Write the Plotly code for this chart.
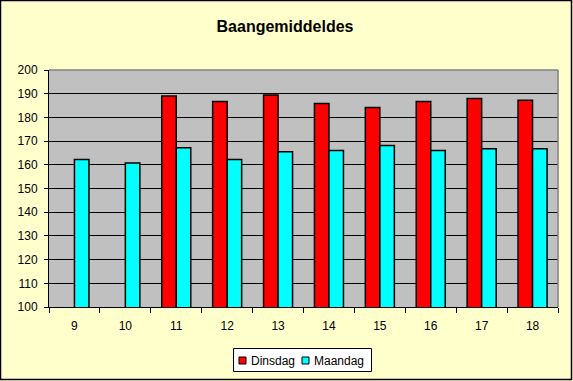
import plotly.graph_objects as go

categories = ["9", "10", "11", "12", "13", "14", "15", "16", "17", "18"]
dinsdag = [None, None, 189, 186.7, 189.4, 185.9, 184.2, 186.7, 188, 187.2]
maandag = [162.2, 160.8, 167.2, 162.2, 165.5, 166, 168.1, 166, 166.8, 166.8]
y_ticks = [100, 110, 120, 130, 140, 150, 160, 170, 180, 190, 200]
series_names = ["Dinsdag", "Maandag"]
series_colors = ["#FF0000", "#00FFFF"]

W, H = 573, 381
L, R, T, B = 49, 15, 70, 74
pw, ph = W - L - R, H - T - B

def px_x(p):
    return (p - L) / pw

def px_y(p):
    return (H - B - p) / ph

fig = go.Figure()
for name, vals, col in zip(series_names, [dinsdag, maandag], series_colors):
    fig.add_trace(go.Bar(name=name, x=categories, y=vals,
                         marker=dict(color=col, line=dict(color="black", width=1.5))))

fig.update_layout(
    width=W, height=H,
    margin=dict(l=L, r=R, t=T, b=B, pad=0),
    paper_bgcolor="#FFFFCC",
    plot_bgcolor="#C0C0C0",
    barmode="group",
    bargap=0.43,
    bargroupgap=0,
    font=dict(family="Liberation Sans, Arial, sans-serif", size=12, color="black"),
    title=dict(text="<b>Baangemiddeldes</b>", x=285 / W, xref="container", xanchor="center",
               y=1 - 26 / H, yanchor="middle", yref="container",
               font=dict(size=16, color="black")),
    xaxis=dict(type="category", tickson="boundaries", ticks="outside", ticklen=5,
               tickcolor="black", showline=True, linecolor="black", linewidth=1,
               showgrid=False, tickfont=dict(size=12), ticklabelstandoff=8),
    yaxis=dict(range=[100, 200], tickvals=y_ticks, ticks="outside", ticklen=4,
               tickcolor="black", showline=True, linecolor="black", linewidth=1,
               showgrid=True, gridcolor="black", gridwidth=1, zeroline=False,
               tickfont=dict(size=12), ticklabelstandoff=4),
    showlegend=False,
)

shapes = [
    dict(type="line", xref="paper", yref="paper", x0=0, x1=1, y0=1, y1=1,
         line=dict(color="#808080", width=1.5), layer="above"),
    dict(type="line", xref="paper", yref="paper", x0=1, x1=1, y0=0, y1=1,
         line=dict(color="#808080", width=1.5), layer="above"),
    dict(type="rect", xref="paper", yref="paper",
         x0=px_x(0.5), x1=px_x(571.5), y0=px_y(379.5), y1=px_y(0.5),
         line=dict(color="black", width=1.5), fillcolor="rgba(0,0,0,0)", layer="above"),
    dict(type="rect", xref="paper", yref="paper",
         x0=px_x(233.5), x1=px_x(371.5), y0=px_y(371.5), y1=px_y(348.5),
         line=dict(color="black", width=1), fillcolor="white", layer="above"),
]
annotations = []
sq_x = [239, 302]
tx_x = [249, 312]
for name, col, sx, tx in zip(series_names, series_colors, sq_x, tx_x):
    shapes.append(dict(type="rect", xref="paper", yref="paper",
                       x0=px_x(sx), x1=px_x(sx + 7), y0=px_y(364), y1=px_y(357),
                       line=dict(color="black", width=1), fillcolor=col, layer="above"))
    annotations.append(dict(text=name, xref="paper", yref="paper", x=px_x(tx), y=px_y(360.5),
                            xanchor="left", yanchor="middle", showarrow=False,
                            font=dict(size=12, color="black")))
fig.update_layout(shapes=shapes, annotations=annotations)

fig.write_html("out.html", config={"displayModeBar": False},
               post_script="document.body.style.margin='0';document.body.style.overflow='hidden';")
